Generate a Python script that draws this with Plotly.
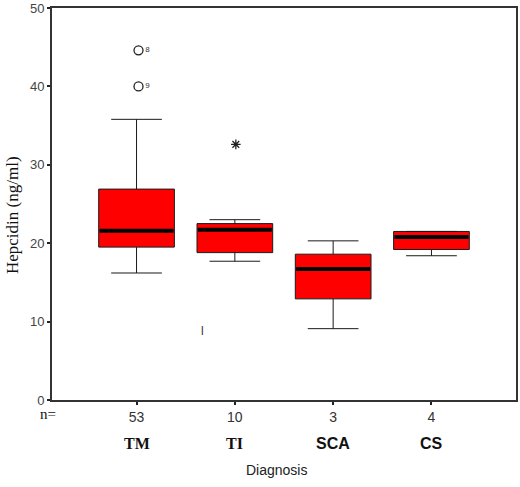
import plotly.graph_objects as go

# values
diagnosis = ['TM', 'TI', 'SCA', 'CS']
n_cases = [53, 10, 3, 4]
q1 = [19.5, 18.8, 12.9, 19.2]
median = [21.6, 21.7, 16.7, 20.8]
q3 = [26.9, 22.5, 18.6, 21.5]
low_whisker = [16.2, 17.7, 9.1, 18.4]
high_whisker = [35.8, 23.0, 20.3, 21.5]

# outliers (o) and extremes (*)
outlier_group = [0, 0]
outlier_val = [44.6, 40.0]
outlier_lab = ['8', '9']
extreme_group = [1]
extreme_val = [32.6]

pos = list(range(len(diagnosis)))
box_w = 0.77

fig = go.Figure()

fig.add_trace(go.Box(
    x=pos, q1=q1, median=median, q3=q3,
    lowerfence=low_whisker, upperfence=high_whisker,
    width=box_w, whiskerwidth=0.67,
    fillcolor='#ff0000', line=dict(color='#1a1a1a', width=1),
    boxpoints=False, hoverinfo='skip', showlegend=False
))

# thick median bars like SPSS draws them
mx, my = [], []
for p, m in zip(pos, median):
    mx += [p - box_w / 2 + 0.01, p + box_w / 2 - 0.01, None]
    my += [m, m, None]
fig.add_trace(go.Scatter(x=mx, y=my, mode='lines',
                         line=dict(color='black', width=4),
                         hoverinfo='skip', showlegend=False))

fig.add_trace(go.Scatter(
    x=[pos[g] + 0.02 for g in outlier_group], y=outlier_val,
    mode='markers+text', text=outlier_lab, textposition='middle right',
    textfont=dict(size=8, color='#333', family='Liberation Sans'),
    marker=dict(symbol='circle-open', size=9, color='#222', line=dict(width=1.3)),
    hoverinfo='skip', showlegend=False
))
fig.add_trace(go.Scatter(
    x=[pos[g] + 0.01 for g in extreme_group], y=extreme_val,
    mode='markers', marker=dict(symbol='asterisk-open', size=8, color='#222',
                                line=dict(width=1.3)),
    hoverinfo='skip', showlegend=False
))

ann = []
for p, d in zip(pos, diagnosis):
    ann.append(dict(x=p, y=0, xref='x', yref='paper', yshift=-54, text='<b>%s</b>' % d,
                    showarrow=False,
                    font=dict(size=16, color='#111',
                              family='Liberation Serif' if p < 2 else 'Liberation Sans Narrow, Liberation Sans')))
ann.append(dict(x=0.0, y=0, xref='paper', yref='paper', xanchor='center', xshift=-4, yshift=-24,
                text='n=', showarrow=False,
                font=dict(size=15, color='#111', family='Liberation Serif')))
ann.append(dict(x=0.67, y=8.8, xref='x', yref='y', text='l', showarrow=False,
                font=dict(size=12, color='#333', family='Liberation Sans')))
ann.append(dict(x=(276 - 52) / 464, y=-80 / 392, xref='paper', yref='paper', text='Diagnosis',
                xanchor='center', showarrow=False,
                font=dict(size=14, color='#222', family='Liberation Sans')))
ann.append(dict(x=0, y=0.5, xref='paper', yref='paper', xanchor='center', xshift=-40, yshift=-11,
                text='Hepcidin (ng/ml)', textangle=-90, showarrow=False,
                font=dict(size=17, color='#111', family='Liberation Serif')))

fig.update_layout(
    width=520, height=487,
    margin=dict(l=52, r=4, t=8, b=87),
    paper_bgcolor='white', plot_bgcolor='white',
    annotations=ann,
    xaxis=dict(range=[-0.86, 3.86], tickvals=pos, ticktext=[str(n) for n in n_cases],
               automargin=False,
               showgrid=False, zeroline=False, showline=True, linecolor='#333',
               linewidth=2, mirror=True, ticks='outside', ticklen=3, tickwidth=2,
               tickcolor='#222',
               tickfont=dict(size=14, color='#333', family='Liberation Sans Narrow, Liberation Sans')),
    yaxis=dict(range=[0, 50], tickvals=[0, 10, 20, 30, 40, 50],
               automargin=False,
               showgrid=False, zeroline=False, showline=True, linecolor='#333',
               linewidth=2, mirror=True, ticks='outside', ticklen=3, tickwidth=2,
               tickcolor='#222',
               tickfont=dict(size=13, color='#444', family='Liberation Sans Narrow, Liberation Sans')),
)

# drop the default 8px page margin so the figure sits at the window corner
fig.write_html("out.html", config={'displayModeBar': False},
               post_script="document.body.style.margin='0px';")
